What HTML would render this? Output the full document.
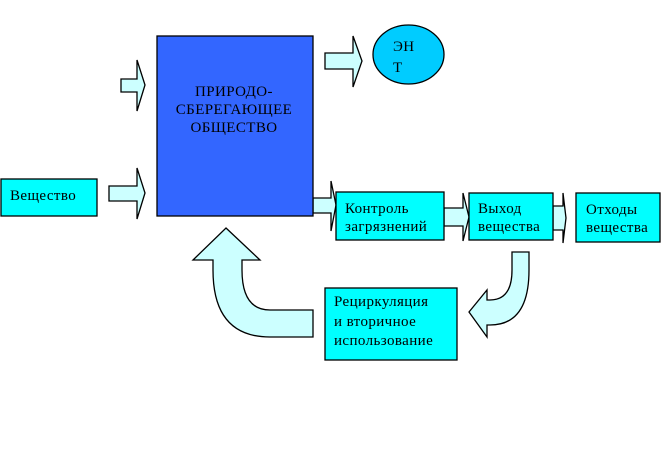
<!DOCTYPE html>
<html><head><meta charset="utf-8"><style>
html,body{margin:0;padding:0;background:#fff;width:662px;height:457px;overflow:hidden}
svg{display:block}
text{font-family:"Liberation Serif","Noto Serif CJK SC",serif;font-size:15px;letter-spacing:0.4px;fill:#000}
</style></head><body>
<svg width="662" height="457" viewBox="0 0 662 457" xmlns="http://www.w3.org/2000/svg">
<g stroke="#000" stroke-width="1.3" fill="#ccffff">
<polygon points="121,79 137,79 137,60 145,85 137,111 137,92 121,92"/>
<polygon points="109,186 137,186 137,168 145,193 137,219 137,201 109,201"/>
<polygon points="325,53 353,53 353,36 362,61 353,87 353,69 325,69"/>
<polygon points="313,198 331,198 331,181 336,205 331,231 331,213 313,213"/>
<polygon points="444,208 463,208 463,193 469,217 463,241 463,226 444,226"/>
<polygon points="553,206 563,206 563,193 566,218 563,243 563,230 553,230"/>
<path d="M226,228 L260,260 L242,260 L242,270 Q242,310 270,310 L313,310 L313,337 L270,337 Q213,337 213,270 L213,260 L193,260 Z"/>
<path d="M512,252 L529,252 L529,270 Q529,325 490,325 L487,325 L487,337 L469,312 L487,290 L487,300 L490,300 Q512,300 512,270 Z"/>
</g>
<rect x="157" y="36" width="156" height="180" fill="#3366ff" stroke="#000" stroke-width="1.3"/>
<ellipse cx="408.5" cy="54.5" rx="35.5" ry="29.5" fill="#00ccff" stroke="#000" stroke-width="1.3"/>
<g fill="#00ffff" stroke="#000" stroke-width="1.3">
<rect x="1" y="179" width="96" height="37"/>
<rect x="336" y="192" width="108" height="48"/>
<rect x="469" y="193" width="84" height="47"/>
<rect x="576" y="193" width="84" height="49"/>
<rect x="325" y="288" width="132" height="72"/>
</g>
<text x="234" y="96" text-anchor="middle">ПРИРОДО-</text>
<text x="234" y="114" text-anchor="middle">СБЕРЕГАЮЩЕЕ</text>
<text x="234" y="132" text-anchor="middle">ОБЩЕСТВО</text>
<text x="393" y="51">ЭН</text>
<text x="393" y="72">Т</text>
<text x="10" y="200">Вещество</text>
<text x="345" y="213">Контроль</text>
<text x="345" y="231">загрязнений</text>
<text x="478" y="213">Выход</text>
<text x="478" y="231">вещества</text>
<text x="586" y="214">Отходы</text>
<text x="586" y="232">вещества</text>
<text x="334" y="306">Рециркуляция</text>
<text x="334" y="326">и вторичное</text>
<text x="334" y="345">использование</text>
</svg>
</body></html>
